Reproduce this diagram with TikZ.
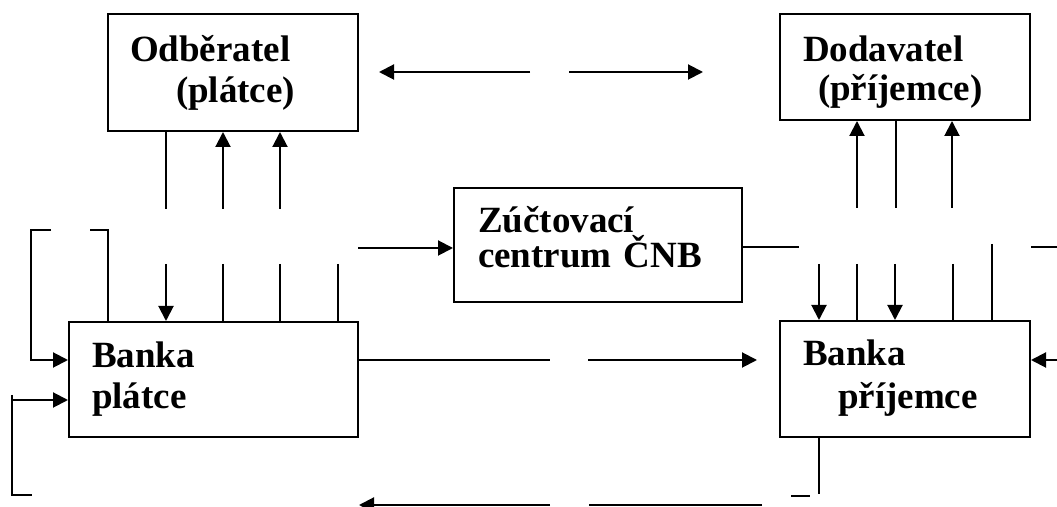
\documentclass[tikz,border=0pt]{standalone}
\usepackage{fontspec}
\setmainfont{Liberation Serif}
\usetikzlibrary{arrows.meta}
\tikzset{
>={Triangle[length=7.5pt,width=7.5pt]},
box/.style={draw, line width=1pt, inner sep=0pt}, % the five rectangles
lbl/.style={anchor=base west, inner sep=0pt, align=left, text width=120pt,
  font=\fontsize{18.5}{20.5}\selectfont\bfseries}, % text set inside a rectangle
}

\begin{document}
\begin{tikzpicture}[x=0.5pt, y=-0.5pt, line width=1pt]
\useasboundingbox (0,0) rectangle (1057,507);
\node[box, minimum width=125pt, minimum height=58.5pt] at (233, 72.5) (ODB) {};
\node[box, minimum width=125pt, minimum height=53pt] at (905, 67) (DOD) {};
\node[box, minimum width=144pt, minimum height=57pt] at (598, 245) (ZUC) {};
\node[box, minimum width=144.5pt, minimum height=57.5pt] at (213.5, 379.5) (BP) {};
\node[box, minimum width=125pt, minimum height=58pt] at (905, 379) (BR) {};
\node[lbl] at (129, 61.5) (ODBt) {Odběratel\\\hspace*{23pt}(plátce)};
\node[lbl] at (802, 61.5) (DODt) {Dodavatel\\[-0.75pt]\hspace*{7.5pt}(příjemce)};
\node[lbl] at (477, 233) (ZUCt) {Zúčtovací\\[-3pt]centrum ČNB};
\node[lbl] at (91, 368) (BPt) {Banka\\plátce};
\node[lbl] at (802, 366) (BRt) {Banka\\[1pt]\hspace*{17.5pt}příjemce};

% loose ends of the broken lines
\coordinate (tl) at (530,72);  \coordinate (tlt) at (379,72);
\coordinate (tr) at (569,72);  \coordinate (trt) at (703,72);
\coordinate (o1) at (166,209); \coordinate (o2) at (223,209); \coordinate (o3) at (280,209);
\coordinate (p1) at (166,264); \coordinate (p2) at (223,264); \coordinate (p3) at (280,264); \coordinate (p4) at (338,264);
\coordinate (k1) at (51,230);  \coordinate (k2) at (31,360);
\coordinate (k3) at (90,230);  \coordinate (k4) at (108,230);
\coordinate (m1) at (12,395);  \coordinate (m2) at (32,495);  \coordinate (m3) at (12,400);
\coordinate (z1) at (358,248); \coordinate (z2) at (799,247);
\coordinate (z3) at (1031,247); \coordinate (z4) at (1057,247); \coordinate (z5) at (992,244);
\coordinate (d1) at (857,208); \coordinate (d2) at (896,208); \coordinate (d3) at (952,208);
\coordinate (r1) at (819,264); \coordinate (r2) at (857,264); \coordinate (r3) at (895,264); \coordinate (r4) at (953,264);
\coordinate (h1) at (550,360); \coordinate (h2) at (588,360); \coordinate (h3) at (757,360); \coordinate (h4) at (1057,360);
\coordinate (b1) at (819,494); \coordinate (b2) at (791,496); \coordinate (b3) at (810,496);
\coordinate (b4) at (762,505); \coordinate (b5) at (589,505);
\coordinate (b6) at (550,505); \coordinate (b7) at (359,505);

\draw[->] (tl) -- (tlt);
\draw[->] (tr) -- (trt);
\draw (ODB.south -| o1) -- (o1);
\draw[->] (o2) -- (o2 |- ODB.south);
\draw[->] (o3) -- (o3 |- ODB.south);
\draw[->] (p1) -- (p1 |- BP.north);
\draw (p2) -- (p2 |- BP.north);
\draw (p3) -- (p3 |- BP.north);
\draw (p4) -- (p4 |- BP.north);
\draw[->] (k1) -| (k2) -- (k2 -| BP.west);
\draw (k3) -- (k4) -- (k4 |- BP.north);
\draw (m1) |- (m2);
\draw[->] (m3) -- (m3 -| BP.west);
\draw[->] (z1) -- (z1 -| ZUC.west);
\draw (ZUC.east |- z2) -- (z2);
\draw (z3) -- (z4);
\draw (z5) -- (z5 |- BR.north);
\draw[->] (d1) -- (d1 |- DOD.south);
\draw (DOD.south -| d2) -- (d2);
\draw[->] (d3) -- (d3 |- DOD.south);
\draw[->] (r1) -- (r1 |- BR.north);
\draw (r2) -- (r2 |- BR.north);
\draw[->] (r3) -- (r3 |- BR.north);
\draw (r4) -- (r4 |- BR.north);
\draw (BP.east |- h1) -- (h1);
\draw[->] (h2) -- (h3);
\draw[->] (h4) -- (h4 -| BR.east);
\draw (b1 |- BR.south) -- (b1);
\draw (b2) -- (b3);
\draw (b4) -- (b5);
\draw[->] (b6) -- (b7);

\end{tikzpicture}
\end{document}
